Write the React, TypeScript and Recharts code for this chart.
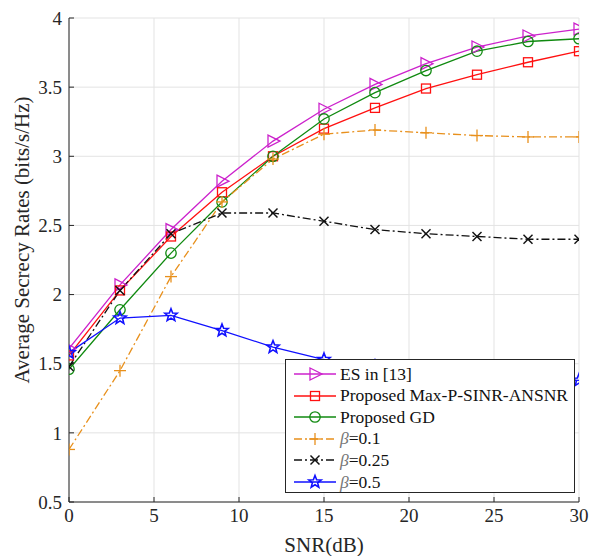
import React from 'react';
import { ComposedChart, Line, XAxis, YAxis, CartesianGrid, Label } from 'recharts';

const snr = [0, 3, 6, 9, 12, 15, 18, 21, 24, 27, 30];
const esRates = [1.61, 2.07, 2.47, 2.82, 3.11, 3.34, 3.52, 3.67, 3.79, 3.87, 3.92];
const maxPRates = [1.56, 2.03, 2.42, 2.74, 3.0, 3.2, 3.35, 3.49, 3.59, 3.68, 3.76];
const gdRates = [1.46, 1.89, 2.3, 2.67, 3.0, 3.27, 3.46, 3.62, 3.76, 3.83, 3.85];
const beta01Rates = [0.88, 1.45, 2.13, 2.67, 2.98, 3.16, 3.19, 3.17, 3.15, 3.14, 3.14];
const beta025Rates = [1.48, 2.03, 2.44, 2.59, 2.59, 2.53, 2.47, 2.44, 2.42, 2.4, 2.4];
const beta05Rates = [1.58, 1.83, 1.85, 1.74, 1.62, 1.53, 1.48, 1.45, 1.42, 1.4, 1.38];

const xTicks = [0, 5, 10, 15, 20, 25, 30];
const yTicks = [0.5, 1, 1.5, 2, 2.5, 3, 3.5, 4];

const data = snr.map((s, i) => ({
  snr: s,
  es: esRates[i],
  maxp: maxPRates[i],
  gd: gdRates[i],
  b01: beta01Rates[i],
  b025: beta025Rates[i],
  b05: beta05Rates[i],
}));

type Shape = 'tri' | 'square' | 'circle' | 'plus' | 'x' | 'star';

const series: { key: string; name: string; beta?: string; color: string; shape: Shape; dash?: string }[] = [
  { key: 'es', name: 'ES in [13]', color: '#cc22cc', shape: 'tri' },
  { key: 'maxp', name: 'Proposed Max-P-SINR-ANSNR', color: '#ff1010', shape: 'square' },
  { key: 'gd', name: 'Proposed GD', color: '#108a10', shape: 'circle' },
  { key: 'b01', name: '', beta: '=0.1', color: '#e8901c', shape: 'plus', dash: '8 3 2 3' },
  { key: 'b025', name: '', beta: '=0.25', color: '#111111', shape: 'x', dash: '8 3 2 3' },
  { key: 'b05', name: '', beta: '=0.5', color: '#1010ff', shape: 'star' },
];

function Marker({ cx, cy, shape, color }: { cx: number; cy: number; shape: Shape; color: string }) {
  const sw = 1.3;
  switch (shape) {
    case 'tri':
      return <polygon points={`${cx - 5},${cy - 6} ${cx + 7},${cy} ${cx - 5},${cy + 6}`} fill="none" stroke={color} strokeWidth={sw} />;
    case 'square':
      return <rect x={cx - 4.5} y={cy - 4.5} width={9} height={9} fill="none" stroke={color} strokeWidth={sw} />;
    case 'circle':
      return <circle cx={cx} cy={cy} r={5.2} fill="none" stroke={color} strokeWidth={sw} />;
    case 'plus':
      return (
        <g stroke={color} strokeWidth={sw}>
          <line x1={cx - 6} y1={cy} x2={cx + 6} y2={cy} />
          <line x1={cx} y1={cy - 6} x2={cx} y2={cy + 6} />
        </g>
      );
    case 'x':
      return (
        <g stroke={color} strokeWidth={sw + 0.2}>
          <line x1={cx - 4.5} y1={cy - 4.5} x2={cx + 4.5} y2={cy + 4.5} />
          <line x1={cx - 4.5} y1={cy + 4.5} x2={cx + 4.5} y2={cy - 4.5} />
        </g>
      );
    case 'star': {
      const pts: string[] = [];
      for (let k = 0; k < 10; k++) {
        const r = k % 2 === 0 ? 6.5 : 2.8;
        const a = -Math.PI / 2 + (k * Math.PI) / 5;
        pts.push(`${cx + r * Math.cos(a)},${cy + r * Math.sin(a)}`);
      }
      return <polygon points={pts.join(' ')} fill="none" stroke={color} strokeWidth={1.6} />;
    }
  }
  return null;
}

const FONT = '"Liberation Serif", "Times New Roman", serif';
const AX = '#262626';

export default function App() {
  return (
    <div style={{ position: 'absolute', left: 0, top: 0, width: 597, height: 556, background: '#fff', fontFamily: FONT }}>
      <style>{`svg text, svg tspan { font-family: "Liberation Serif", "Times New Roman", serif !important; }`}</style>
      <ComposedChart width={597} height={556} data={data} margin={{ top: 18, right: 18, left: 0, bottom: 0 }}>
        <CartesianGrid stroke="#e3e3e3" strokeWidth={1} />
        <XAxis
          dataKey="snr"
          type="number"
          domain={[0, 30]}
          ticks={xTicks}
          height={54}
          stroke={AX}
          tickSize={-5}
          tickMargin={12}
          tick={{ fill: AX, fontSize: 19, fontFamily: FONT }}
          allowDataOverflow
        >
          <Label
            content={({ viewBox }: any) => (
              <text x={viewBox.x + viewBox.width / 2} y={viewBox.y + 50} textAnchor="middle" fill={AX} fontSize={21} fontFamily={FONT}>
                SNR(dB)
              </text>
            )}
          />
        </XAxis>
        <XAxis xAxisId="top" orientation="top" dataKey="snr" type="number" domain={[0, 30]} ticks={xTicks} height={0} stroke={AX} tickSize={-5} tick={false} />
        <YAxis
          type="number"
          domain={[0.5, 4]}
          ticks={yTicks}
          width={69}
          stroke={AX}
          tickSize={-5}
          tickMargin={12}
          tick={{ fill: AX, fontSize: 19, fontFamily: FONT }}
          allowDataOverflow
        >
          <Label
            content={({ viewBox }: any) => {
              const x = viewBox.x + 22;
              const y = viewBox.y + viewBox.height / 2 - 20;
              return (
                <text x={x} y={y} transform={`rotate(-90 ${x} ${y})`} textAnchor="middle" dominantBaseline="central" fill={AX} fontSize={21} fontFamily={FONT}>
                  Average Secrecy Rates (bits/s/Hz)
                </text>
              );
            }}
          />
        </YAxis>
        <YAxis yAxisId="right" orientation="right" type="number" domain={[0.5, 4]} ticks={yTicks} width={0} stroke={AX} tickSize={-5} tick={false} />
        {series.map((s) => (
          <Line
            key={s.key}
            dataKey={s.key}
            stroke={s.color}
            strokeWidth={1.3}
            strokeDasharray={s.dash}
            isAnimationActive={false}
            dot={(p: any) => <Marker key={`${s.key}-${p.index}`} cx={p.cx} cy={p.cy} shape={s.shape} color={s.color} />}
            activeDot={false}
          />
        ))}
      </ComposedChart>
      <div
        style={{
          position: 'absolute',
          left: 285,
          top: 359,
          width: 288,
          height: 132,
          background: '#fff',
          border: '1px solid #262626',
          fontSize: 17.5,
          fontFamily: FONT,
          color: '#111',
          boxSizing: 'content-box',
        }}
      >
        {series.map((s, i) => (
          <div key={s.key} style={{ position: 'absolute', left: 0, top: 3 + i * 21.6, height: 22, display: 'flex', alignItems: 'center', whiteSpace: 'nowrap' }}>
            <svg width={54} height={22} style={{ display: 'block' }}>
              <line x1={8} y1={11} x2={50} y2={11} stroke={s.color} strokeWidth={1.3} strokeDasharray={s.dash} />
              <Marker cx={29} cy={11} shape={s.shape} color={s.color} />
            </svg>
            <span>
              {s.beta ? (
                <>
                  <span style={{ fontStyle: 'italic', color: '#777' }}>β</span>
                  {s.beta}
                </>
              ) : (
                s.name
              )}
            </span>
          </div>
        ))}
      </div>
    </div>
  );
}
